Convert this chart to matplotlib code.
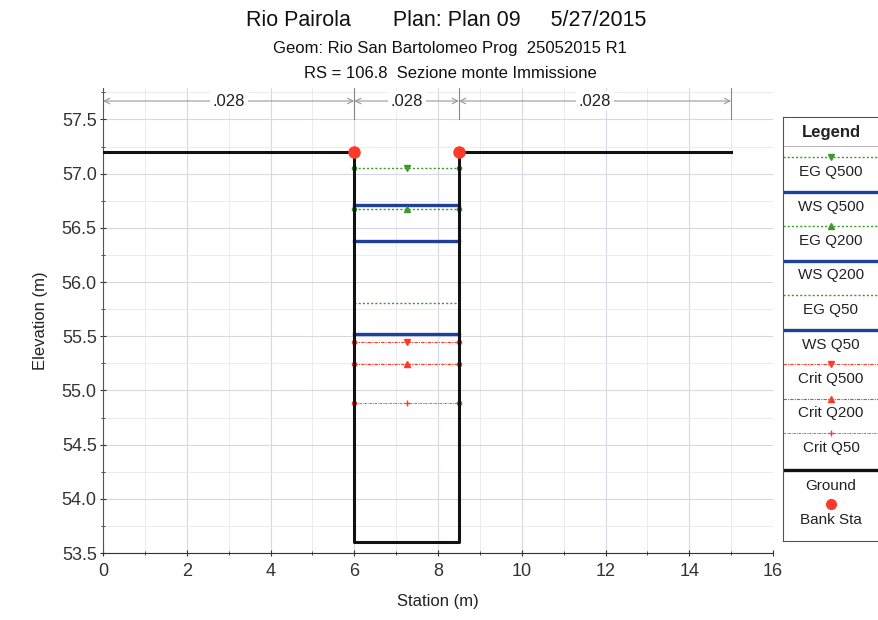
import matplotlib.pyplot as plt
from matplotlib.ticker import MultipleLocator, FormatStrFormatter

plt.rcParams['font.family'] = ['Liberation Sans', 'DejaVu Sans']

# ground geometry
ground_sta = [0, 6, 6, 8.5, 8.5, 15]
ground_elev = [57.2, 57.2, 53.6, 53.6, 57.2, 57.2]
bank_sta = [6, 8.5]
bank_elev = [57.2, 57.2]

# manning's n regions
n_breaks = [0, 6, 8.5, 15]
n_values = ['.028', '.028', '.028']

# water profiles (left bank, centre, right bank)
prof_sta = [6, 7.25, 8.5]
prof_names = ['EG Q500', 'WS Q500', 'EG Q200', 'WS Q200', 'EG Q50', 'WS Q50',
              'Crit Q500', 'Crit Q200', 'Crit Q50']
prof_elev = [57.05, 56.71, 56.67, 56.38, 55.81, 55.52, 55.45, 55.24, 54.88]

GREEN = '#3f9a2c'
BLUE = '#1f3f9f'
RED = '#ff3a2a'
styles = {
    'EG Q500': dict(color=GREEN, ls=(0, (1.5, 1.5)), lw=1.0, mk='v', ms=5),
    'WS Q500': dict(color=BLUE, ls='-', lw=2.4, mk=None, ms=0),
    'EG Q200': dict(color=GREEN, ls=(0, (1.5, 1.5)), lw=1.0, mk='^', ms=5),
    'WS Q200': dict(color=BLUE, ls='-', lw=2.4, mk=None, ms=0),
    'EG Q50': dict(color=GREEN, ls=(0, (1.5, 1.5)), lw=1.0, mk=None, ms=0),
    'WS Q50': dict(color=BLUE, ls='-', lw=2.4, mk=None, ms=0),
    'Crit Q500': dict(color=RED, ls=(0, (3, 1, 1, 1)), lw=0.8, mk='v', ms=5),
    'Crit Q200': dict(color=RED, ls=(0, (3, 1, 1, 1)), lw=0.8, mk='^', ms=5),
    'Crit Q50': dict(color=RED, ls=(0, (3, 1, 1, 1)), lw=0.6, mk='+', ms=4),
}

fig = plt.figure(figsize=(8.79, 6.2), dpi=100)
ax = fig.add_axes([103 / 879, 1 - 553 / 620, 670 / 879, 465 / 620])

# profiles
for name, elev in zip(prof_names, prof_elev):
    s = styles[name]
    ys = [elev] * len(prof_sta)
    ax.plot(prof_sta, ys, color=s['color'], ls=s['ls'], lw=s['lw'], zorder=3)
    if s['mk']:
        ax.plot(prof_sta[1:2], ys[1:2], ls='none', marker=s['mk'], ms=s['ms'],
                color=s['color'], mew=1, zorder=4)
        ax.plot(prof_sta[::2], ys[::2], ls='none', marker='o', ms=3,
                color=s['color'], zorder=4)

# ground and banks
ax.plot(ground_sta, ground_elev, color='#111111', lw=2.2, zorder=5)
ax.plot(bank_sta, bank_elev, ls='none', marker='o', ms=8, color=RED, zorder=6)

# manning's n annotations
y_n = 57.67
for i, txt in enumerate(n_values):
    x0, x1 = n_breaks[i], n_breaks[i + 1]
    ax.annotate('', xy=(x0, y_n), xytext=(x1, y_n),
                arrowprops=dict(arrowstyle='<->', color='#999999', lw=0.8,
                                shrinkA=0, shrinkB=0))
    ax.text((x0 + x1) / 2, y_n, txt, ha='center', va='center', fontsize=12,
            color='#222222', bbox=dict(facecolor='white', edgecolor='none', pad=2))
for xb in n_breaks[1:]:
    ax.plot([xb, xb], [57.5, 57.79], color='#888888', lw=0.8)

ax.set_xlim(0, 16)
ax.set_ylim(53.5, 57.79)
ax.xaxis.set_major_locator(MultipleLocator(2))
ax.xaxis.set_minor_locator(MultipleLocator(1))
ax.yaxis.set_major_locator(MultipleLocator(0.5))
ax.yaxis.set_minor_locator(MultipleLocator(0.25))
ax.yaxis.set_major_formatter(FormatStrFormatter('%.1f'))
ax.set_yticks([53.5, 54.0, 54.5, 55.0, 55.5, 56.0, 56.5, 57.0, 57.5])
ax.grid(which='major', color='#d8d8e4', lw=0.8)
ax.grid(which='minor', color='#e8e8f0', lw=0.6)
ax.set_axisbelow(True)
for sp in ['top', 'right']:
    ax.spines[sp].set_visible(False)
ax.spines['left'].set_color('#8a3a50')
ax.spines['left'].set_linewidth(0.8)
ax.spines['bottom'].set_color('#333333')
ax.tick_params(which='both', labelsize=13, colors='#333333', direction='inout')
ax.tick_params(which='major', length=5, pad=2)
ax.tick_params(axis='x', which='major', pad=5)
ax.tick_params(which='minor', length=3)
ax.set_xlabel('Station (m)', fontsize=12, color='#222222', labelpad=10)
ax.set_ylabel('Elevation (m)', fontsize=12, color='#222222', labelpad=10)

# titles
fig.text(0.508, 1 - 20 / 620, 'Rio Pairola       Plan: Plan 09     5/27/2015',
         ha='center', va='center', fontsize=15.5, color='#111111')
fig.text(0.512, 1 - 48 / 620, 'Geom: Rio San Bartolomeo Prog  25052015 R1',
         ha='center', va='center', fontsize=12, color='#111111')
fig.text(0.512, 1 - 73 / 620, 'RS = 106.8  Sezione monte Immissione',
         ha='center', va='center', fontsize=12, color='#111111')

# legend panel, laid out in pixel units
lg = fig.add_axes([783 / 879, 1 - 541 / 620, 96 / 879, 424 / 620])
lg.set_xlim(0, 96)
lg.set_ylim(541, 117)
lg.set_xticks([])
lg.set_yticks([])
for sp in lg.spines.values():
    sp.set_color('#555555')
    sp.set_linewidth(0.8)
lg.text(48, 132, 'Legend', ha='center', va='center', fontsize=12,
        fontweight='bold', color='#222222')
lg.plot([0, 96], [146, 146], color='#aaaaaa', lw=0.6)
row_h = 34.5
for i, name in enumerate(prof_names):
    s = styles[name]
    y_line = 157 + i * row_h
    lg.plot([0, 96], [y_line, y_line], color=s['color'], ls=s['ls'],
            lw=s['lw'] if s['lw'] < 2 else 2.4)
    if s['mk']:
        lg.plot([48], [y_line], ls='none', marker=s['mk'], ms=s['ms'],
                color=s['color'])
    lg.text(48, y_line + 15, name, ha='center', va='center', fontsize=11,
            color='#222222')
y_g = 157 + 9 * row_h + 2
lg.plot([0, 96], [y_g, y_g], color='#111111', lw=2.4)
lg.text(48, y_g + 17, 'Ground', ha='center', va='center', fontsize=11, color='#222222')
lg.plot([48], [y_g + 34], ls='none', marker='o', ms=7, color=RED)
lg.text(48, y_g + 50, 'Bank Sta', ha='center', va='center', fontsize=11, color='#222222')

fig.savefig('out.png', dpi=100)
